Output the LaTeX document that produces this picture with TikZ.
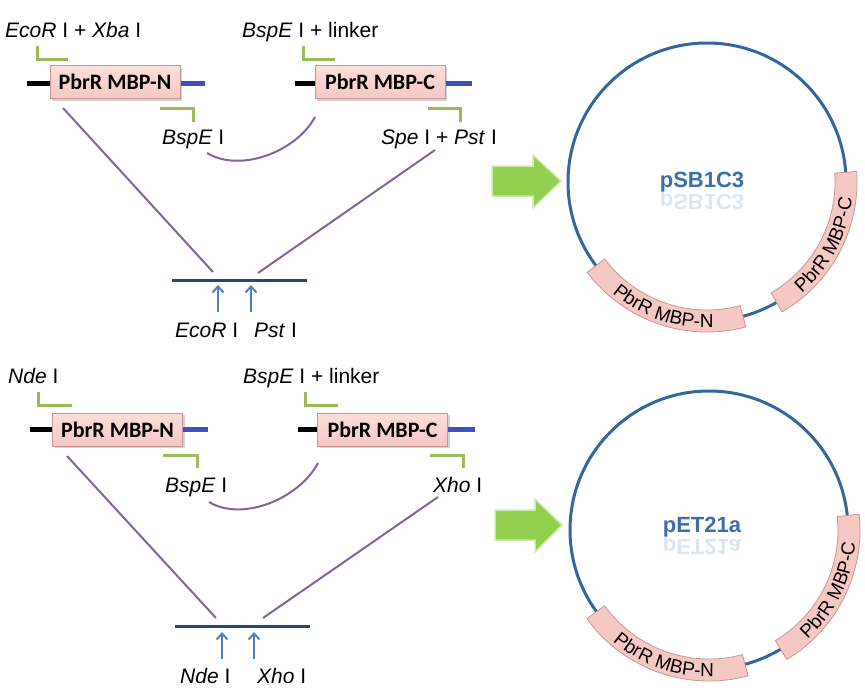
\documentclass[tikz,border=0pt]{standalone}
\usepackage{fontspec}
\setmainfont{Liberation Sans}
\newfontfamily\boxfont{Carlito}
\usetikzlibrary{arrows.meta,decorations.text,shadows}
\definecolor{gbr}{RGB}{155,187,89}
\definecolor{purp}{RGB}{128,100,162}
\definecolor{darkbar}{RGB}{31,73,125}
\definecolor{lblue}{RGB}{79,129,189}
\definecolor{ringblue}{RGB}{52,102,158}
\definecolor{pinkf}{RGB}{246,200,196}
\definecolor{pinkt}{RGB}{252,222,218}
\definecolor{pinke}{RGB}{200,150,146}
\definecolor{tailblue}{RGB}{64,80,190}
\definecolor{arrgreen}{RGB}{146,208,80}
\definecolor{arredge}{RGB}{205,235,170}
\definecolor{plabel}{RGB}{60,110,170}
\newcommand{\arcfont}{\fontsize{19}{22}\selectfont}
\begin{document}
\begin{tikzpicture}[x=1pt,y=1pt,
  genebox/.style={draw=pinke, top color=pinkt, bottom color=pinkf, line width=1pt,
    minimum width=130pt, minimum height=33pt, inner sep=0pt,
    font=\boxfont\bfseries\fontsize{22}{26}\selectfont,
    drop shadow={opacity=0.35, shadow xshift=2pt, shadow yshift=-2pt}},
  site/.style={font=\fontsize{21}{25}\selectfont, inner sep=0pt, anchor=base west},
  bracket/.style={gbr, line width=3pt},
  purpline/.style={purp, line width=2pt},
  tailk/.style={black, line width=5pt},
  tailb/.style={tailblue, line width=5pt},
  barline/.style={darkbar, line width=3pt},
  cutarrow/.style={lblue, line width=2pt, -{Straight Barb[length=6pt,width=11pt,line width=2pt]}},
  ringnode/.style={circle, draw=ringblue, line width=3pt, minimum size=278pt, inner sep=0pt},
  band/.style={draw=pinke, fill=pinkf, line width=0.8pt},
  plasmidlabel/.style={font=\bfseries\fontsize{22}{26}\selectfont, text=plabel, inner sep=0pt},
  bigarrow/.style={fill=arrgreen, draw=arredge, line width=1.5pt}
]
\useasboundingbox (0,0) rectangle (865,-699);

% ================= TOP =================
\node[site] (t1) at (5,-37) {\textit{EcoR} I + \textit{Xba} I};
\node[site] (t2) at (242,-37) {\textit{BspE} I + linker};
\node[site] (t3) at (162,-144) {\textit{BspE} I};
\node[site] (t4) at (381,-144) {\textit{Spe} I + \textit{Pst} I};
\node[site] (t5) at (175,-337) {\textit{EcoR} I};
\node[site] (t6) at (254,-337) {\textit{Pst} I};

\node[genebox] (n1) at (115,-82) {PbrR MBP-N};
\node[genebox] (c1) at (380,-82) {PbrR MBP-C};
\coordinate (n1l) at (27,-83);  \coordinate (n1r) at (205,-83);
\coordinate (c1l) at (295,-83); \coordinate (c1r) at (472,-83);
\draw[tailk] (n1l) -- (n1.west |- n1l);
\draw[tailb] (n1.east |- n1r) -- (n1r);
\draw[tailk] (c1l) -- (c1.west |- c1l);
\draw[tailb] (c1.east |- c1r) -- (c1r);

\coordinate (b1a) at (37,-46);  \coordinate (b1b) at (68,-59);
\coordinate (b2a) at (160,-108); \coordinate (b2b) at (193,-122);
\coordinate (b3a) at (303,-46); \coordinate (b3b) at (335,-59);
\coordinate (b4a) at (428,-108); \coordinate (b4b) at (460,-122);
\draw[bracket] (b1a) |- (b1b);
\draw[bracket] (b2a) -| (b2b);
\draw[bracket] (b3a) |- (b3b);
\draw[bracket] (b4a) -| (b4b);

\coordinate (cv1a) at (207,-153); \coordinate (cv1b) at (315,-117);
\draw[purpline] (cv1a) .. controls (240,-173) and (296,-152) .. (cv1b);

\coordinate (bar1l) at (172,-280); \coordinate (bar1r) at (307,-280);
\draw[barline] (bar1l) -- (bar1r);
\coordinate (p1a) at (63,-108);  \coordinate (p1b) at (213,-272);
\coordinate (p2a) at (435,-150); \coordinate (p2b) at (258,-273);
\draw[purpline] (p1a) -- (p1b);
\draw[purpline] (p2a) -- (p2b);
\coordinate (a1s) at (218,-312); \coordinate (a1e) at (218,-285);
\coordinate (a2s) at (251,-312); \coordinate (a2e) at (251,-285);
\draw[cutarrow] (a1s) -- (a1e);
\draw[cutarrow] (a2s) -- (a2e);

\draw[bigarrow] (492,-166) -- (533,-166) -- (533,-155) -- (561,-181) -- (533,-208) -- (533,-196) -- (492,-196) -- cycle;

\begin{scope}[shift={(707,-182)}]
  \node[ringnode] (ring1) at (0,0) {};
  \filldraw[band] (217:128) arc[start angle=217,end angle=285,radius=128] -- (285:150) arc[start angle=285,end angle=217,radius=150] -- cycle;
  \filldraw[band] (-60:128) arc[start angle=-60,end angle=4,radius=128] -- (4:150) arc[start angle=4,end angle=-60,radius=150] -- cycle;
  \path[decorate, decoration={text along path, text align=center, text={|\arcfont|PbrR MBP-N}}] (217:146) arc[start angle=217, end angle=285, radius=146];
  \path[decorate, decoration={text along path, text align=center, text={|\arcfont|PbrR MBP-C}}] (-60:146) arc[start angle=-60, end angle=4, radius=146];
  \node[plasmidlabel] (lab1) at (-5,0) {pSB1C3};
  \node[plasmidlabel, yscale=-1, opacity=0.18] (lab1r) at (-5,-18) {pSB1C3};
\end{scope}

% ================= BOTTOM =================
\node[site] (u1) at (8,-383) {\textit{Nde} I};
\node[site] (u2) at (243,-383) {\textit{BspE} I + linker};
\node[site] (u3) at (165,-492) {\textit{BspE} I};
\node[site] (u4) at (433,-492) {\textit{Xho} I};
\node[site] (u5) at (180,-683) {\textit{Nde} I};
\node[site] (u6) at (257,-683) {\textit{Xho} I};

\node[genebox] (n2) at (117.5,-429.5) {PbrR MBP-N};
\node[genebox] (c2) at (382.5,-429.5) {PbrR MBP-C};
\coordinate (n2l) at (30,-429);  \coordinate (n2r) at (208,-429);
\coordinate (c2l) at (298,-429); \coordinate (c2r) at (475,-429);
\draw[tailk] (n2l) -- (n2.west |- n2l);
\draw[tailb] (n2.east |- n2r) -- (n2r);
\draw[tailk] (c2l) -- (c2.west |- c2l);
\draw[tailb] (c2.east |- c2r) -- (c2r);

\coordinate (d1a) at (38,-392);  \coordinate (d1b) at (72,-405);
\coordinate (d2a) at (163,-455); \coordinate (d2b) at (197,-468);
\coordinate (d3a) at (305,-392); \coordinate (d3b) at (338,-405);
\coordinate (d4a) at (430,-455); \coordinate (d4b) at (463,-468);
\draw[bracket] (d1a) |- (d1b);
\draw[bracket] (d2a) -| (d2b);
\draw[bracket] (d3a) |- (d3b);
\draw[bracket] (d4a) -| (d4b);

\coordinate (cv2a) at (209,-502); \coordinate (cv2b) at (318,-463);
\draw[purpline] (cv2a) .. controls (242,-522) and (299,-499) .. (cv2b);

\coordinate (bar2l) at (175,-626); \coordinate (bar2r) at (310,-626);
\draw[barline] (bar2l) -- (bar2r);
\coordinate (q1a) at (67,-456);  \coordinate (q1b) at (216,-618);
\coordinate (q2a) at (438,-497); \coordinate (q2b) at (263,-618);
\draw[purpline] (q1a) -- (q1b);
\draw[purpline] (q2a) -- (q2b);
\coordinate (e1s) at (222,-659); \coordinate (e1e) at (222,-632);
\coordinate (e2s) at (254,-659); \coordinate (e2e) at (254,-632);
\draw[cutarrow] (e1s) -- (e1e);
\draw[cutarrow] (e2s) -- (e2e);

\draw[bigarrow] (495,-510) -- (535,-510) -- (535,-499) -- (562,-525) -- (535,-552) -- (535,-540) -- (495,-540) -- cycle;

\begin{scope}[shift={(709,-530)}]
  \node[ringnode] (ring2) at (0,0) {};
  \filldraw[band] (216:129) arc[start angle=216,end angle=285,radius=129] -- (285:151) arc[start angle=285,end angle=216,radius=151] -- cycle;
  \filldraw[band] (-59:129) arc[start angle=-59,end angle=6,radius=129] -- (6:151) arc[start angle=6,end angle=-59,radius=151] -- cycle;
  \path[decorate, decoration={text along path, text align=center, text={|\arcfont|PbrR MBP-N}}] (216:147) arc[start angle=216, end angle=285, radius=147];
  \path[decorate, decoration={text along path, text align=center, text={|\arcfont|PbrR MBP-C}}] (-59:147) arc[start angle=-59, end angle=6, radius=147];
  \node[plasmidlabel] (lab2) at (-7,3) {pET21a};
  \node[plasmidlabel, yscale=-1, opacity=0.18] (lab2r) at (-7,-15) {pET21a};
\end{scope}
\end{tikzpicture}
\end{document}
